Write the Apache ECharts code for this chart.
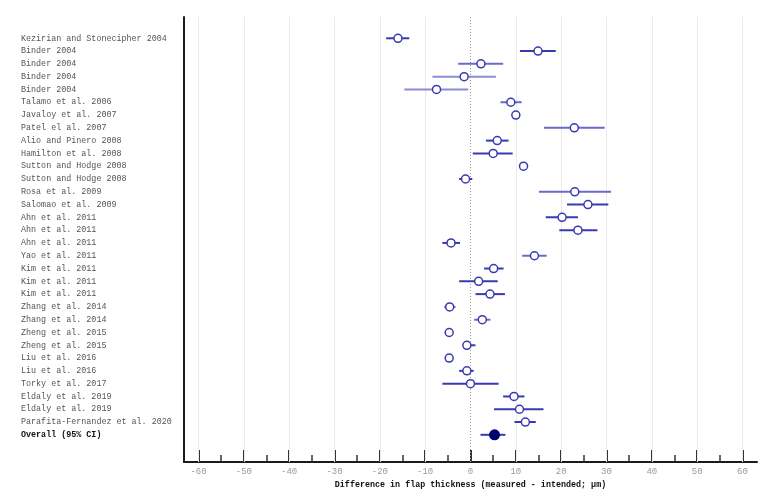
<!DOCTYPE html>
<html>
<head>
<meta charset="utf-8">
<script src="https://cdn.jsdelivr.net/npm/echarts@6/dist/echarts.min.js"></script>
<style>html,body{margin:0;padding:0;background:#fff}#c{width:779px;height:496px}</style>
</head>
<body>
<div id="c"></div>
<script>
const studies = [
  "Kezirian and Stonecipher 2004","Binder 2004","Binder 2004","Binder 2004","Binder 2004",
  "Talamo et al. 2006","Javaloy et al. 2007","Patel el al. 2007","Alio and Pinero 2008",
  "Hamilton et al. 2008","Sutton and Hodge 2008","Sutton and Hodge 2008","Rosa et al. 2009",
  "Salomao et al. 2009","Ahn et al. 2011","Ahn et al. 2011","Ahn et al. 2011","Yao et al. 2011",
  "Kim et al. 2011","Kim et al. 2011","Kim et al. 2011","Zhang et al. 2014","Zhang et al. 2014",
  "Zheng et al. 2015","Zheng et al. 2015","Liu et al. 2016","Liu et al. 2016","Torky et al. 2017",
  "Eldaly et al. 2019","Eldaly et al. 2019","Parafita-Fernandez et al. 2020","Overall (95% CI)"
];
const estimate = [-16.0,14.9,2.3,-1.4,-7.5,8.9,10.0,22.9,5.9,5.0,11.7,-1.1,23.0,25.9,20.2,23.7,-4.3,14.1,5.1,1.8,4.3,-4.6,2.6,-4.7,-0.8,-4.7,-0.8,0.0,9.6,10.8,12.1,5.3];
const lower    = [-18.6,10.9,-2.7,-8.4,-14.6,6.6,10.0,16.2,3.4,0.5,11.7,-2.5,15.1,21.3,16.6,19.6,-6.2,11.4,3.0,-2.5,1.1,-5.8,0.8,-4.7,-1.4,-4.7,-2.5,-6.2,7.2,5.2,9.7,2.2];
const upper    = [-13.5,18.8,7.2,5.6,-0.5,11.3,10.0,29.6,8.4,9.3,11.7,0.4,31.0,30.4,23.7,28.0,-2.3,16.8,7.3,6.0,7.6,-3.3,4.4,-4.7,1.1,-4.7,0.7,6.2,11.9,16.1,14.4,7.7];
const majorTicks = [-60,-50,-40,-30,-20,-10,0,10,20,30,40,50,60];
const minorTicks = [-55,-45,-35,-25,-15,-5,5,15,25,35,45,55];
const xTitle = "Difference in flap thickness (measured - intended; \u03bcm)";

// line shade per row (visual styling)
const shadeOf = i => {
  if (i === 3 || i === 4) return '#8c8cd8';
  if ([2,5,7,12,17,21,22].includes(i)) return '#6a6acb';
  return '#3a3ab0';
};

const rows = studies.map((_, i) => i);
const overallIdx = studies.length - 1;
const mono = '"Liberation Mono", "DejaVu Sans Mono", monospace';

const chart = echarts.init(document.getElementById('c'), null, {renderer: 'canvas'});
chart.setOption({
  animation: false,
  grid: {left: 184, right: 22, top: 17, bottom: 34},
  xAxis: [{
    type: 'value', min: -63.2, max: 63.2, position: 'bottom',
    axisLine: {show: true, onZero: false, lineStyle: {color: '#1a1a1a', width: 2}},
    axisTick: {show: true, customValues: majorTicks, inside: true, length: 12, lineStyle: {color: '#333', width: 2}},
    axisLabel: {show: true, customValues: majorTicks, color: '#999', fontFamily: mono, fontSize: 9, margin: 5},
    splitLine: {show: false},
    name: xTitle, nameLocation: 'middle', nameGap: 19,
    nameTextStyle: {fontFamily: mono, fontWeight: 'bold', fontSize: 8.4, color: '#111'}
  }, {
    type: 'value', min: -63.2, max: 63.2, position: 'bottom', offset: 0,
    axisLine: {show: false, onZero: false},
    axisTick: {show: true, customValues: minorTicks, inside: true, length: 7, lineStyle: {color: '#333', width: 1.5}},
    axisLabel: {show: false},
    splitLine: {show: false}
  }],
  yAxis: {
    type: 'value', inverse: true, min: -1.664, max: 33.125,
    axisLine: {show: true, onZero: false, lineStyle: {color: '#1a1a1a', width: 2}},
    axisTick: {show: false},
    splitLine: {show: false},
    axisLabel: {
      show: true, customValues: rows, align: 'left', margin: 163,
      fontFamily: mono, fontSize: 8.4, color: '#555',
      formatter: v => v === overallIdx ? '{b|' + studies[v] + '}' : studies[v],
      rich: {b: {fontFamily: mono, fontSize: 8.4, fontWeight: 'bold', color: '#111'}}
    }
  },
  series: [{
    type: 'line', data: [], silent: true, z: 1,
    markLine: {
      silent: true, symbol: 'none', label: {show: false}, z: 1,
      lineStyle: {color: '#ebebeb', type: 'solid', width: 1},
      data: majorTicks.filter(v => v !== 0).map(v => ({xAxis: v}))
    }
  }, {
    type: 'line', data: [], silent: true, z: 1,
    markLine: {
      silent: true, symbol: 'none', label: {show: false}, z: 1,
      lineStyle: {color: '#999', type: [1, 2], width: 1},
      data: [{xAxis: 0}]
    }
  }, {
    type: 'custom',
    name: 'ci',
    silent: true,
    encode: {x: [0, 1], y: 2},
    data: rows.map(i => [lower[i], upper[i], i]),
    renderItem: (params, api) => {
      const i = api.value(2);
      const p1 = api.coord([api.value(0), i]);
      const p2 = api.coord([api.value(1), i]);
      return {type: 'line', shape: {x1: p1[0], y1: p1[1], x2: p2[0], y2: p2[1]},
        style: {stroke: shadeOf(i), lineWidth: 2}};
    },
    z: 3
  }, {
    type: 'scatter',
    name: 'studies',
    symbol: 'circle', symbolSize: 8,
    itemStyle: {color: '#fff', borderColor: '#3a3ab0', borderWidth: 1.5, opacity: 1},
    data: rows.filter(i => i !== overallIdx).map(i => [estimate[i], i]),
    z: 5
  }, {
    type: 'scatter',
    name: 'overall',
    symbol: 'circle', symbolSize: 11,
    itemStyle: {color: '#00006e', opacity: 1},
    data: [[estimate[overallIdx], overallIdx]],
    z: 5
  }]
});
</script>
</body>
</html>
